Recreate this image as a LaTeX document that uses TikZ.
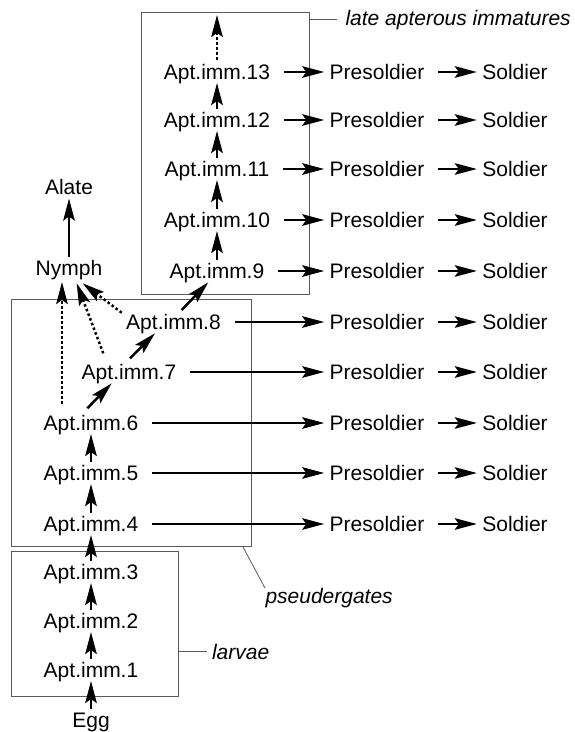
\documentclass[tikz,border=0pt]{standalone}
\usepackage{fontspec}
\setmainfont{Liberation Sans}
\usetikzlibrary{arrows.meta}
\begin{document}
\begin{tikzpicture}[x=1pt,y=1pt,
  lbl/.style={font=\fontsize{21}{25}\selectfont, inner sep=2.5pt, outer sep=0pt, text height=15pt, text depth=0pt},
  ar/.style={line width=2.5pt, -{Stealth[length=22pt 0 0,width=11.5pt 0 0,inset=4pt 0]}},
  up/.style={ar, shorten <=1pt, shorten >=1pt},
  hz/.style={ar, shorten <=11.5pt, shorten >=3pt},
  dt/.style={ar, dash pattern=on 2.5pt off 2.5pt},
  frame/.style={draw=black!65, line width=0.9pt},
  lead/.style={draw=black!65, line width=0.8pt},
  note/.style={font=\fontsize{21}{25}\selectfont\itshape, inner sep=0pt, outer sep=0pt, anchor=base west}]
\fill[white] (0,0) rectangle (574,732);
\useasboundingbox (0,0) rectangle (574,732);

% frames
\draw[frame] (141,438) rectangle (309,720);
\draw[frame] (11.5,186) rectangle (251,433);
\draw[frame] (11.5,36) rectangle (178,181);

% left column
\node[lbl] (egg) at (91,12) {Egg};
\node[lbl] (a1) at (91,62) {Apt.imm.1};
\node[lbl] (a2) at (91,111) {Apt.imm.2};
\node[lbl] (a3) at (91,160) {Apt.imm.3};
\node[lbl] (a4) at (91,208) {Apt.imm.4};
\node[lbl] (a5) at (91,259) {Apt.imm.5};
\node[lbl] (a6) at (91,309) {Apt.imm.6};
\node[lbl] (a7) at (129,360) {Apt.imm.7};
\node[lbl] (a8) at (173.5,410) {Apt.imm.8};
\node[lbl] (a9) at (217,461) {Apt.imm.9};
\node[lbl] (a10) at (217,512) {Apt.imm.10};
\node[lbl] (a11) at (217,563) {Apt.imm.11};
\node[lbl] (a12) at (217,612) {Apt.imm.12};
\node[lbl] (a13) at (217,660) {Apt.imm.13};
\node[lbl] (ny) at (69,464) {Nymph};
\node[lbl] (al) at (69,544.5) {Alate};
\coordinate (topend) at (217,717);

% presoldiers and soldiers
\foreach \i/\y in {4/208,5/259,6/309,7/360,8/410,9/461,10/512,11/563,12/612,13/660}{
  \node[lbl] (p\i) at (377,\y) {Presoldier};
  \node[lbl] (s\i) at (515,\y) {Soldier};
  \draw[hz] (a\i) -- (p\i);
  \draw[hz] (p\i) -- (s\i);
}

% vertical moults
\draw[up] (egg) -- (a1);
\draw[up] (a1) -- (a2);
\draw[up] (a2) -- (a3);
\draw[up] (a3) -- (a4);
\draw[up] (a4) -- (a5);
\draw[up] (a5) -- (a6);
\draw[up] (a9) -- (a10);
\draw[up] (a10) -- (a11);
\draw[up] (a11) -- (a12);
\draw[up] (a12) -- (a13);
\draw[up] (ny) -- (al);
\draw[dt] ([yshift=2pt]a13.north) -- (topend);

% diagonal moults
\draw[ar] ([shift={(-3.7,14.7)}]a6.center) -- ([shift={(-17.3,-11.3)}]a7.center);
\draw[ar] ([shift={(1,13.7)}]a7.center) -- ([shift={(-18.5,-11.3)}]a8.center);
\draw[ar] ([shift={(8.2,12)}]a8.center) -- ([shift={(-8.7,-11.3)}]a9.center);

% dotted to nymph
\draw[dt] ([shift={(-29,19)}]a6.center) -- ([shift={(-7,-14)}]ny.center);
\draw[dt] ([shift={(-25.7,18.7)}]a7.center) -- ([shift={(7.7,-15.3)}]ny.center);
\draw[dt] ([shift={(-51.8,9.3)}]a8.center) -- ([shift={(13.7,-15.3)}]ny.center);

% notes
\coordinate (l1a) at (309.5,713);
\coordinate (l1b) at (337,713);
\draw[lead] (l1a) -- (l1b);
\node[note] (n1) at (345.5,706) {late apterous immatures};
\coordinate (l2a) at (243,185);
\coordinate (l2b) at (265,144);
\draw[lead] (l2a) -- (l2b);
\node[note] (n2) at (265.5,128.7) {pseudergates};
\coordinate (l3a) at (178,81);
\coordinate (l3b) at (207,81);
\draw[lead] (l3a) -- (l3b);
\node[note] (n3) at (212,72.7) {larvae};
\end{tikzpicture}
\end{document}
